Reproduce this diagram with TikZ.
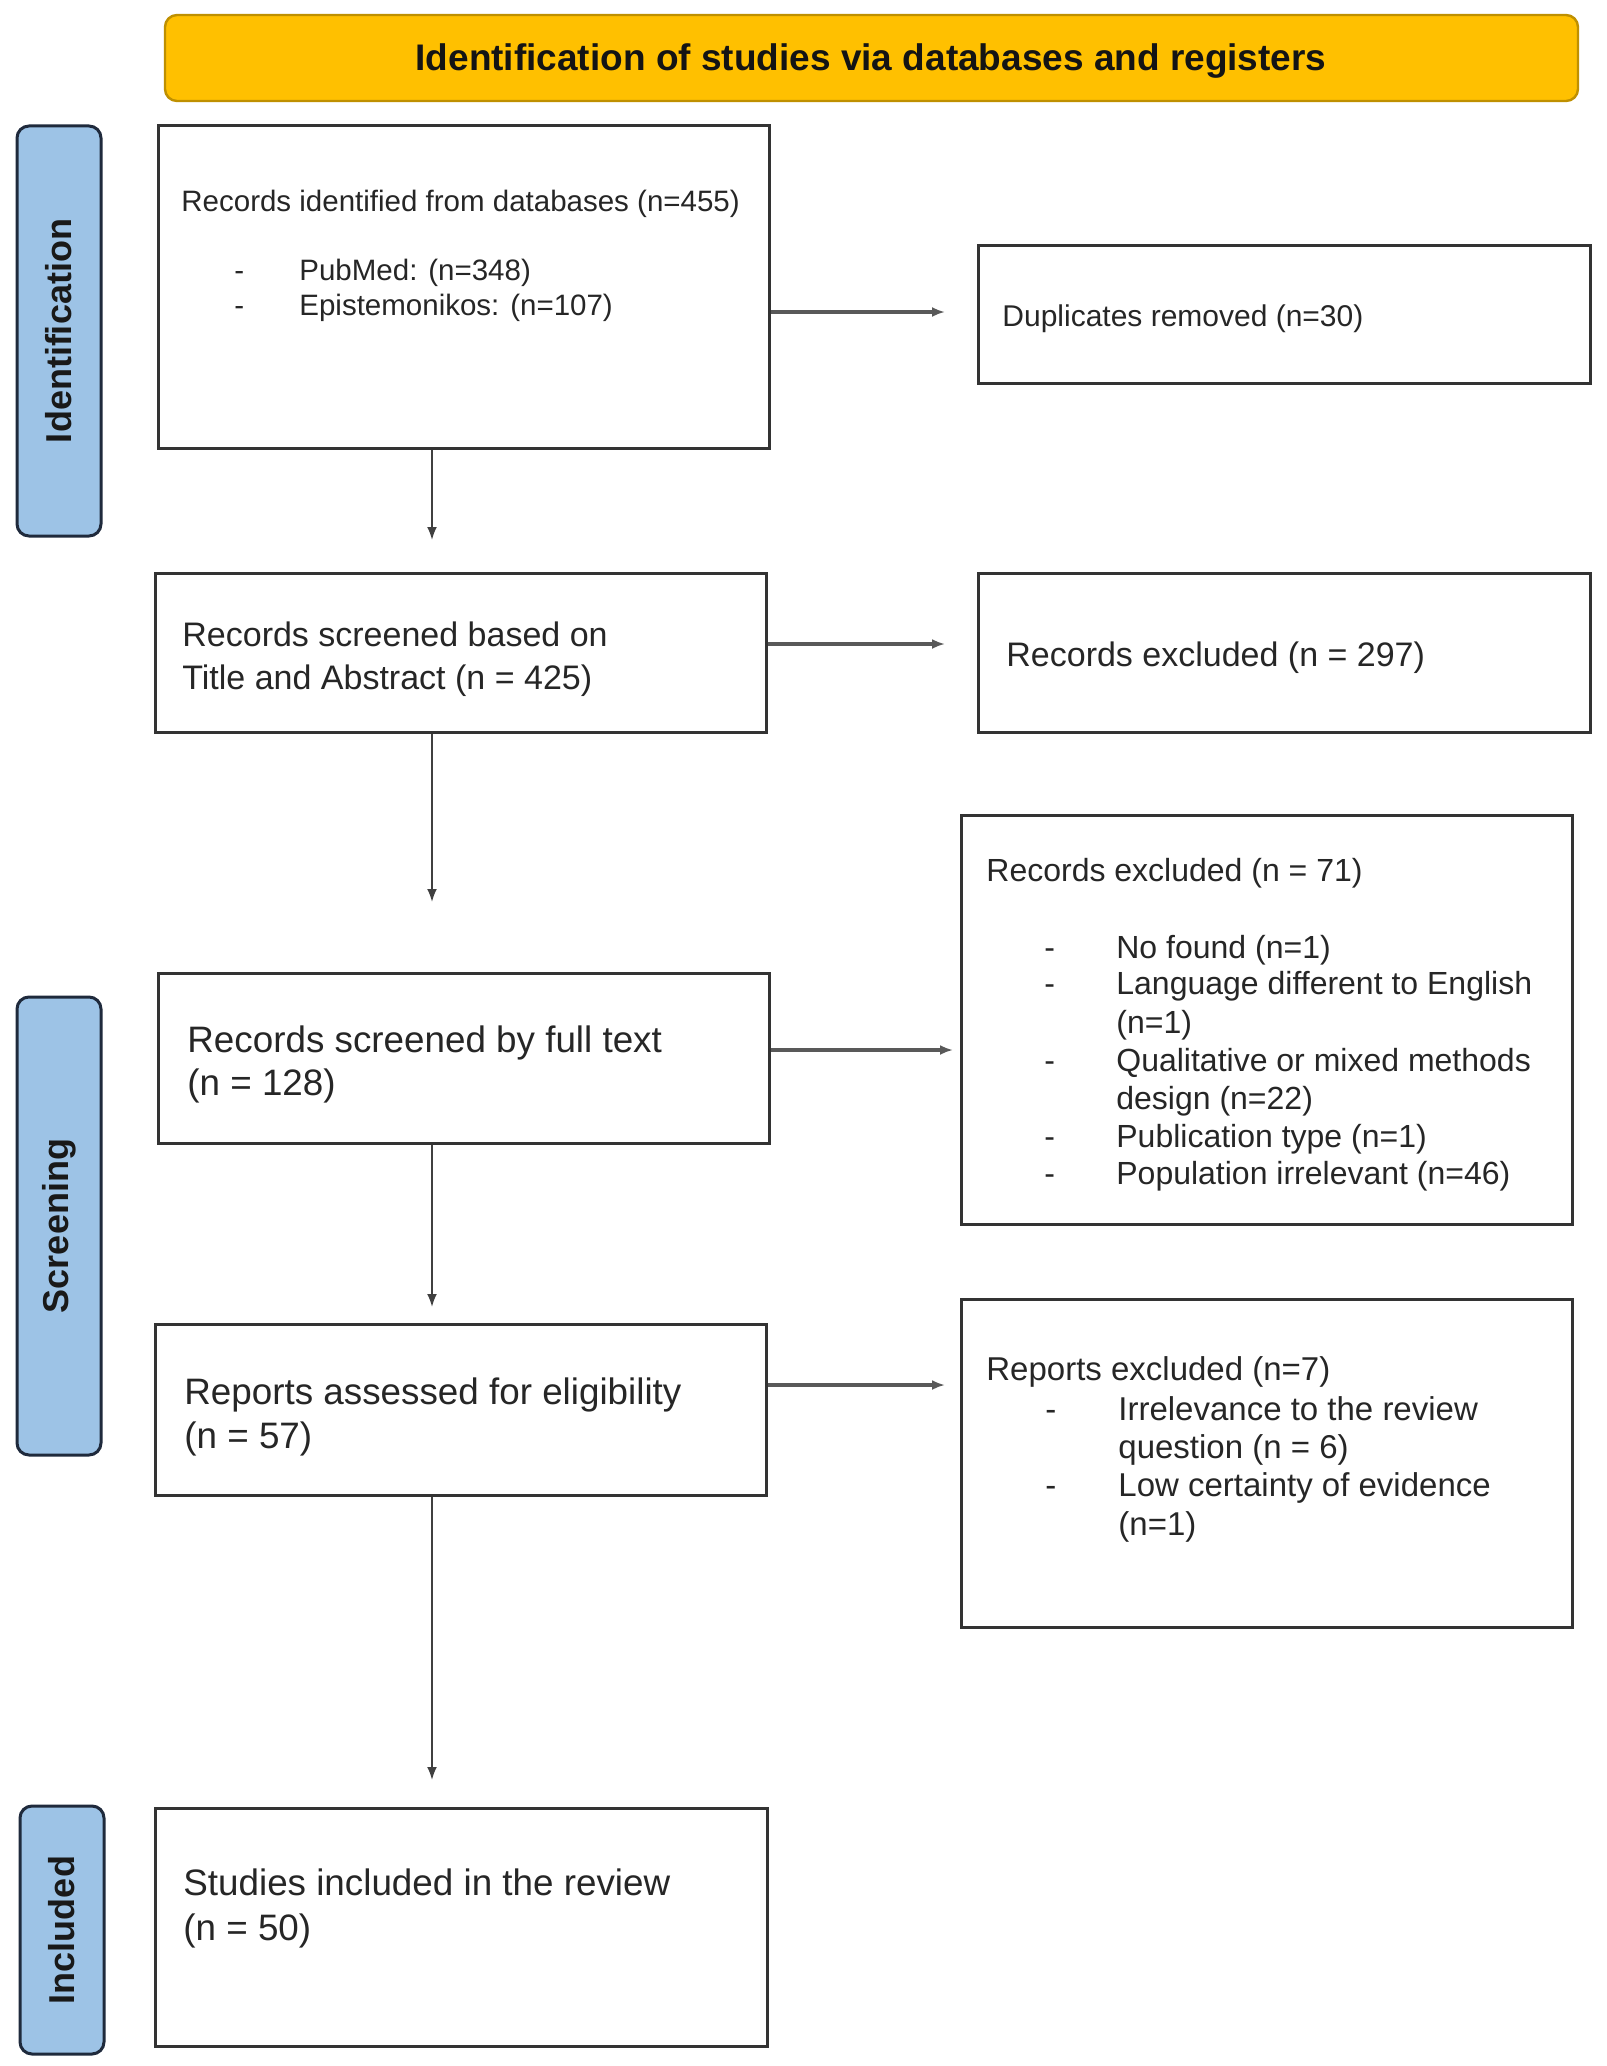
\documentclass[tikz,border=0pt]{standalone}
\usepackage{fontspec}
\setmainfont{Liberation Sans}
\usetikzlibrary{fit,arrows.meta}
\definecolor{hdrfill}{HTML}{FFC000}
\definecolor{hdrline}{HTML}{BF9000}
\definecolor{tabfill}{HTML}{9DC3E6}
\definecolor{tabline}{HTML}{1F2A3C}
\definecolor{boxline}{HTML}{333333}
\begin{document}
\begin{tikzpicture}[x=0.5pt,y=-0.5pt,
  box/.style={draw=boxline, line width=1.5pt, fill=white, inner sep=0pt},
  hdr/.style={draw=hdrline, line width=1.2pt, fill=hdrfill, rounded corners=6pt, inner sep=0pt},
  tab/.style={draw=tabline, line width=1.5pt, fill=tabfill, rounded corners=6pt, inner sep=0pt},
  tablabel/.style={rotate=90, inner sep=0pt, font=\fontsize{18}{20}\selectfont\bfseries, text=black!90},
  txt/.style={anchor=base west, inner sep=0pt, text=black!85},
  fa/.style={font=\fontsize{14.75}{16}\selectfont},
  fb/.style={font=\fontsize{17}{19}\selectfont},
  fc/.style={font=\fontsize{18.4}{20}\selectfont},
  fd/.style={font=\fontsize{15}{17}\selectfont},
  fe/.style={font=\fontsize{16}{18}\selectfont},
  ff/.style={font=\fontsize{16.5}{18}\selectfont},
  arr/.style={draw=black!75, line width=1pt, -{Latex[length=6.5pt,width=5pt]}},
  harr/.style={arr, draw=black!65, line width=1.6pt},
]
\fill[white] (0,0) rectangle (1606,2066);
\useasboundingbox (0,0) rectangle (1606,2066);

% header
\node[hdr, fit={(165,15) (1578,101)}] (hdr) {};
\node[anchor=base, inner sep=0pt, font=\fontsize{18.5}{20}\selectfont\bfseries, text=black!92] (hdrtext) at (871,71) {Identification of studies via databases and registers};

% side tabs
\node[tab, fit={(17,126) (101,536)}] (tabid) {};
\node[tablabel] (tabidl) at (tabid.center) {Identification};
\node[tab, fit={(17,997) (101,1455)}] (tabsc) {};
\node[tablabel] (tabscl) at (tabsc.center) {Screening};
\node[tab, fit={(20,1806) (104,2054)}] (tabin) {};
\node[tablabel] (tabinl) at (tabin.center) {Included};

% boxes
\node[box, fit={(158,126) (769,448)}] (b1) {};
\node[box, fit={(978,245) (1590,383)}] (dup) {};
\node[box, fit={(155,573) (766,732)}] (b2) {};
\node[box, fit={(978,573) (1590,732)}] (ex1) {};
\node[box, fit={(158,973) (769,1143)}] (b3) {};
\node[box, fit={(961,815) (1572,1224)}] (ex2) {};
\node[box, fit={(155,1324) (766,1495)}] (b4) {};
\node[box, fit={(961,1299) (1572,1627)}] (ex3) {};
\node[box, fit={(155,1808) (767,2046)}] (b5) {};

% texts box1
\node[txt, fa] (t1a) at (181,211) {Records identified from databases (n=455)};
\node[txt, fa] (t1b) at (234,280) {\makebox[32.5pt][l]{-}PubMed: (n=348)};
\node[txt, fa] (t1c) at (234,315) {\makebox[32.5pt][l]{-}Epistemonikos: (n=107)};
% dup
\node[txt, fd] (tdup) at (1002,326) {Duplicates removed (n=30)};
% box2
\node[txt, fb] (t2a) at (182,646) {Records screened based on};
\node[txt, fb] (t2b) at (182,689) {Title and Abstract (n = 425)};
% ex1
\node[txt, fb] (tex1) at (1006,666) {Records excluded (n = 297)};
% box3
\node[txt, fc] (t3a) at (187,1052) {Records screened by full text};
\node[txt, fc] (t3b) at (187,1095) {(n = 128)};
% ex2
\node[txt, fe] (te2a) at (986,881) {Records excluded (n = 71)};
\node[txt, fe] (te2b) at (1044,958) {\makebox[36pt][l]{-}No found (n=1)};
\node[txt, fe] (te2c) at (1044,994) {\makebox[36pt][l]{-}Language different to English};
\node[txt, fe] (te2d) at (1116,1033) {(n=1)};
\node[txt, fe] (te2e) at (1044,1071) {\makebox[36pt][l]{-}Qualitative or mixed methods};
\node[txt, fe] (te2f) at (1116,1109) {design (n=22)};
\node[txt, fe] (te2g) at (1044,1147) {\makebox[36pt][l]{-}Publication type (n=1)};
\node[txt, fe] (te2h) at (1044,1184) {\makebox[36pt][l]{-}Population irrelevant (n=46)};
% box4
\node[txt, fc] (t4a) at (184,1404) {Reports assessed for eligibility};
\node[txt, fc] (t4b) at (184,1448) {(n = 57)};
% ex3
\node[txt, ff] (te3a) at (986,1380) {Reports excluded (n=7)};
\node[txt, ff] (te3b) at (1045,1420) {\makebox[36.5pt][l]{-}Irrelevance to the review};
\node[txt, ff] (te3c) at (1118,1458) {question (n = 6)};
\node[txt, ff] (te3d) at (1045,1496) {\makebox[36.5pt][l]{-}Low certainty of evidence};
\node[txt, ff] (te3e) at (1118,1535) {(n=1)};
% box5
\node[txt, fc] (t5a) at (183,1895) {Studies included in the review};
\node[txt, fc] (t5b) at (183,1940) {(n = 50)};

% arrow end points
\coordinate (e1) at (432,540);
\coordinate (e2) at (945,312);
\coordinate (e3) at (945,644);
\coordinate (e4) at (432,902);
\coordinate (e5) at (953,1050);
\coordinate (e6) at (432,1307);
\coordinate (e7) at (945,1385);
\coordinate (e8) at (432,1780);

\draw[arr] (b1.south -| e1) -- (e1);
\draw[harr] (b1.east |- e2) -- (e2);
\draw[harr] (b2.east |- e3) -- (e3);
\draw[arr] (b2.south -| e4) -- (e4);
\draw[harr] (b3.east |- e5) -- (e5);
\draw[arr] (b3.south -| e6) -- (e6);
\draw[harr] (b4.east |- e7) -- (e7);
\draw[arr] (b4.south -| e8) -- (e8);
\end{tikzpicture}
\end{document}
